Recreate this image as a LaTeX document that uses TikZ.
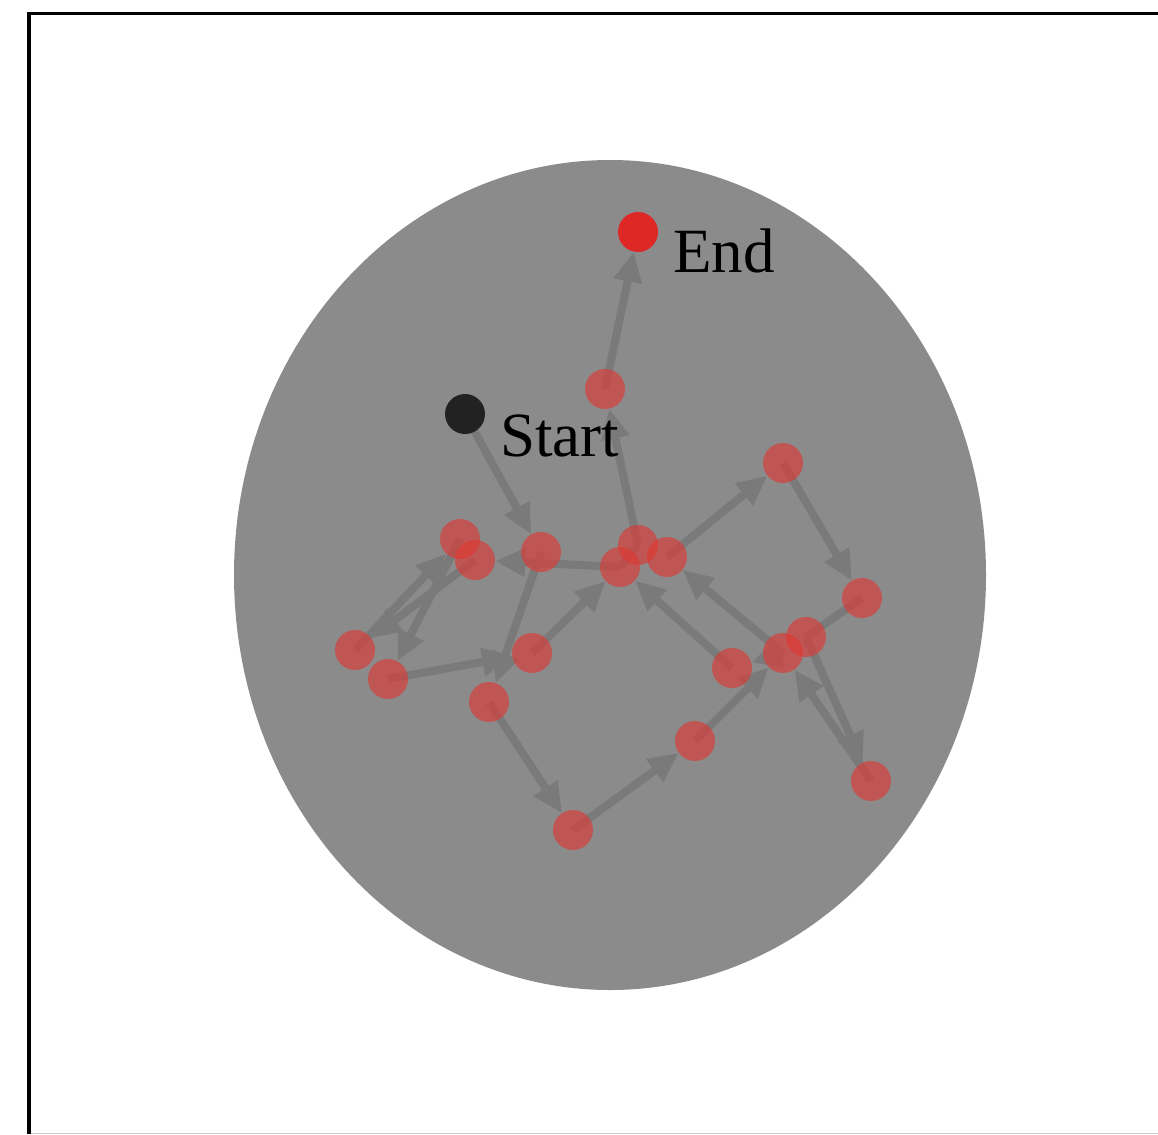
\documentclass[tikz,border=0pt]{standalone}
\usepackage{fontspec}
\setmainfont{Liberation Serif}
\usetikzlibrary{arrows.meta}
\pgfdeclarelayer{bglayer}
\pgfdeclarelayer{edgelayer}
\pgfsetlayers{bglayer,edgelayer,main}
\definecolor{ellgray}{RGB}{139,139,139}
\definecolor{edgegray}{RGB}{122,122,122}
\definecolor{dotred}{RGB}{225,55,50}
\definecolor{endred}{RGB}{221,40,38}
\definecolor{startblack}{RGB}{34,34,34}
\begin{document}
\begin{tikzpicture}[x=1pt,y=-1pt,
  walk/.style={circle,inner sep=0pt,minimum size=40pt,fill=dotred,fill opacity=0.62,draw=none},
  startdot/.style={circle,inner sep=0pt,minimum size=40pt,fill=startblack},
  enddot/.style={circle,inner sep=0pt,minimum size=40pt,fill=endred},
  plainedge/.style={draw=edgegray,line width=8pt},
  edge/.style={plainedge,-{Triangle[length=30pt,width=27pt]}},
  lbl/.style={font=\fontsize{63}{66}\selectfont,text=black,inner sep=0pt}]
\useasboundingbox (0,0) rectangle (1158,1134);
\begin{pgfonlayer}{bglayer}
  \fill[white] (0,0) rectangle (1158,1134);
  \fill[ellgray] (610,575) ellipse [x radius=376pt, y radius=415pt];
  \draw[line width=3.5pt] (29,1134) -- (29,13.5) -- (1158,13.5);
  \draw[black!20,line width=1pt] (31,1133.5) -- (1158,1133.5);
\end{pgfonlayer}
% nodes
\node[startdot] (st) at (465,414) {};
\node[enddot] (en) at (638,232) {};
\node[walk] (A) at (605,389) {};
\node[walk] (B) at (541,552) {};
\node[walk] (C) at (460,539) {};
\node[walk] (D) at (475,560) {};
\node[walk] (E) at (355,650) {};
\node[walk] (F) at (388,679) {};
\node[walk] (G) at (532,653) {};
\node[walk] (H) at (489,702) {};
\node[walk] (I) at (573,830) {};
\node[walk] (J) at (695,741) {};
\node[walk] (K) at (783,653) {};
\node[walk] (L) at (806,637) {};
\node[walk] (M) at (862,598) {};
\node[walk] (N) at (783,463) {};
\node[walk] (O) at (638,545) {};
\node[walk] (P) at (620,567) {};
\node[walk] (Q) at (667,557) {};
\node[walk] (R) at (732,668) {};
\node[walk] (S) at (871,781) {};
% labels
\node[lbl,anchor=base west] (endlbl) at (673,272) {End};
\node[lbl,anchor=base west] (stlbl) at (500,456) {Start};
% walk edges
\begin{pgfonlayer}{edgelayer}
  \draw[edge] (st.center) -- (B);
  \draw[edge] (B.center) -- (H);
  \draw[edge] (H.center) -- (I);
  \draw[edge] (I.center) -- (J);
  \draw[edge] (J.center) -- (K);
  \draw[edge] (K.center) -- (Q);
  \draw[edge] (Q.center) -- (N);
  \draw[edge] (N.center) -- (M);
  \draw[plainedge] (M.center) -- (L.center);
  \draw[edge] (L.center) -- (S);
  \draw[edge] (S.center) -- (K);
  \draw[edge] (K.center) -- (R);
  \draw[edge] (R.center) -- (P);
  \draw[edge] (P.center) -- (D);
  \draw[edge] (D.center) -- (E);
  \draw[edge] (E.center) -- (C);
  \draw[edge] (C.center) -- (F);
  \draw[edge] (F.center) -- (G);
  \draw[edge] (G.center) -- (P);
  \draw[plainedge] (P.center) -- (O.center);
  \draw[edge] (O.center) -- (A);
  \draw[edge] (A.center) -- (en);
\end{pgfonlayer}
\end{tikzpicture}
\end{document}
